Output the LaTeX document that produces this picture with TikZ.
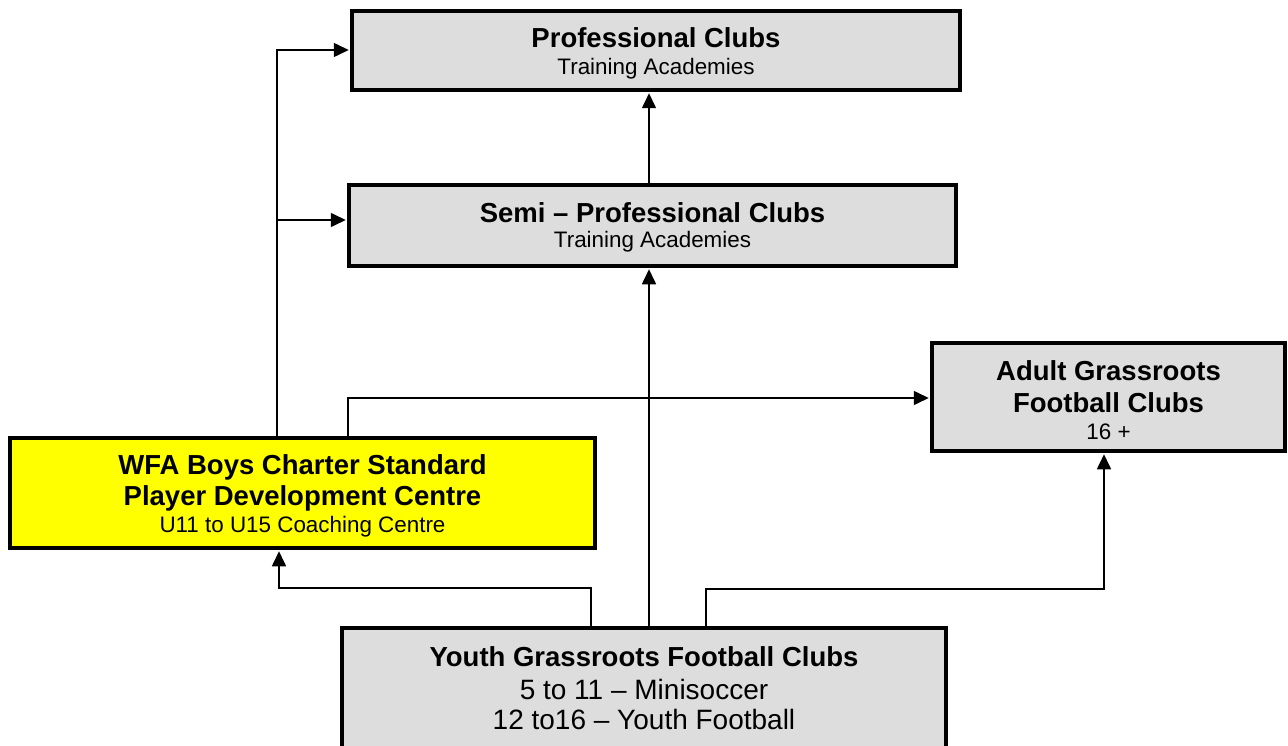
\documentclass[tikz,border=0pt]{standalone}
\usepackage{fontspec}
\setmainfont{Liberation Sans}
\usetikzlibrary{arrows.meta}
\definecolor{boxgray}{HTML}{DDDDDD}
\definecolor{wfayellow}{HTML}{FFFF00}
\newcommand\boxtitle{\fontsize{27.5}{31}\selectfont\bfseries}
\newcommand\boxsub{\fontsize{22.4}{31}\selectfont}
\newcommand\boxsubbig{\fontsize{28}{31}\selectfont}
\begin{document}
\begin{tikzpicture}[x=1pt,y=-1pt,
  box/.style={draw,line width=3.5pt,fill=boxgray,inner sep=0pt},
  txt/.style={inner sep=0pt,align=center,font=\boxsub},
  conn/.style={line width=1.6pt,-{Triangle[length=15pt,width=14pt]},shorten >=1.5pt}]
\useasboundingbox (0,0) rectangle (1288,746);
\clip (0,0) rectangle (1288,746);

\node[box,minimum width=608,minimum height=79] (prof) at (656,50.5) {};
\node[txt] (proft) at ([yshift=-3pt]prof.center)
  {{\boxtitle Professional Clubs}\\[-4.5pt]{\boxsub Training Academies}};
\node[box,minimum width=607,minimum height=81] (semi) at (652.5,225.5) {};
\node[txt] (semit) at ([yshift=-2pt]semi.center)
  {{\boxtitle Semi – Professional Clubs}\\[-5.5pt]{\boxsub Training Academies}};
\node[box,minimum width=353,minimum height=108] (adult) at (1108.5,397) {};
\node[txt] (adultt) at ([yshift=-3pt]adult.center)
  {{\boxtitle Adult Grassroots}\\[1pt]{\boxtitle Football Clubs}\\[-4.5pt]{\boxsub 16 +}};
\node[box,fill=wfayellow,minimum width=585,minimum height=110] (wfa) at (302.5,493) {};
\node[txt] (wfat) at ([yshift=-3pt]wfa.center)
  {{\boxtitle WFA Boys Charter Standard}\\{\boxtitle Player Development Centre}\\[-3.5pt]{\boxsub U11 to U15 Coaching Centre}};
\node[box,minimum width=604,minimum height=126] (youth) at (644,691) {};
\node[txt,font=\boxsubbig] (youtht) at ([yshift=3pt]youth.center)
  {{\boxtitle Youth Grassroots Football Clubs}\\[2pt]{\boxsubbig 5 to 11 – Minisoccer}\\[-1pt]{\boxsubbig 12 to16 – Youth Football}};

\coordinate (xa) at (649,0);
\draw[conn] (xa |- semi.north) -- (xa |- prof.south);
\draw[conn] (xa |- youth.north) -- (xa |- semi.south);

\coordinate (xb) at (591,588);
\coordinate (xc) at (279,588);
\draw[conn] (xb |- youth.north) -- (xb) -- (xc) -- (xc |- wfa.south);

\coordinate (xd) at (706,589);
\coordinate (xe) at (1104,589);
\draw[conn] (xd |- youth.north) -- (xd) -- (xe) -- (xe |- adult.south);

\coordinate (xf) at (277,50);
\coordinate (xg) at (277,220);
\draw[conn] (xf |- wfa.north) -- (xf) -- (xf -| prof.west);
\draw[conn] (xg) -- (xg -| semi.west);

\coordinate (xh) at (348,398);
\draw[conn] (xh |- wfa.north) -- (xh) -- (xh -| adult.west);
\end{tikzpicture}
\end{document}
